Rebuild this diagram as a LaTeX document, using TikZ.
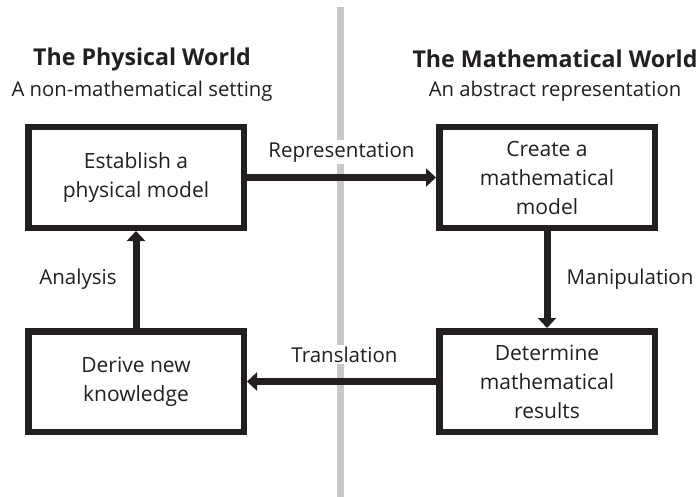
\documentclass[tikz,border=0pt]{standalone}
\usepackage{fontspec}
\setmainfont{Open Sans}
\usetikzlibrary{arrows.meta,positioning}

\definecolor{ink}{RGB}{35,31,32}
\definecolor{divider}{RGB}{200,200,202}

\begin{document}
\begin{tikzpicture}[
  x=1pt, y=-1pt,
  font=\fontsize{21}{29}\selectfont,
  >={Triangle[width=18pt,length=10pt]},
  stage/.style={
    draw=ink,
    line width=6.5pt,
    fill=white,
    text=ink,
    align=center,
    minimum width=215.5pt,
    minimum height=100.5pt,
    inner sep=0pt
  },
  heading/.style={
    text=ink,
    align=center,
    font=\fontsize{23.2}{27}\selectfont\bfseries
  },
  subheading/.style={
    text=ink,
    align=center,
    font=\fontsize{20.3}{24}\selectfont
  },
  flow/.style={->, draw=ink, line width=7pt},
  step label/.style={
    fill=white,
    text=ink,
    inner sep=2pt,
    font=\fontsize{20.5}{24}\selectfont
  }
]

\useasboundingbox (0,0) rectangle (698,497);

% Divider between the two worlds
\draw[divider, line width=7pt] (340.5,7) -- (340.5,497);

% Column headings
\node[heading] (physhead) at (142,59) {The Physical World};
\node[subheading] (physsub) at (142,91) {A non-mathematical setting};
\node[heading] (mathhead) at (555,59) {The Mathematical World};
\node[subheading] (mathsub) at (555,91) {An abstract representation};

% The four stages
\node[stage] (physmodel) at (136,177.5) {Establish a\\physical model};
\node[stage, right=189pt of physmodel] (mathmodel) {Create a\\mathematical\\model};
\node[stage, below=97pt of mathmodel] (results) {Determine\\mathematical\\results};
\node[stage, below=97pt of physmodel] (knowledge) {Derive new\\knowledge};

% The cycle
\draw[flow] (physmodel) -- node[step label, yshift=25.5pt] {Representation} (mathmodel);
\draw[flow] (mathmodel) -- node[step label, xshift=83pt] {Manipulation} (results);
\draw[flow] (results) -- node[step label, yshift=27pt, xshift=3pt] {Translation} (knowledge);
\draw[flow] (knowledge) -- node[step label, xshift=-58pt] {Analysis} (physmodel);

\end{tikzpicture}
\end{document}
